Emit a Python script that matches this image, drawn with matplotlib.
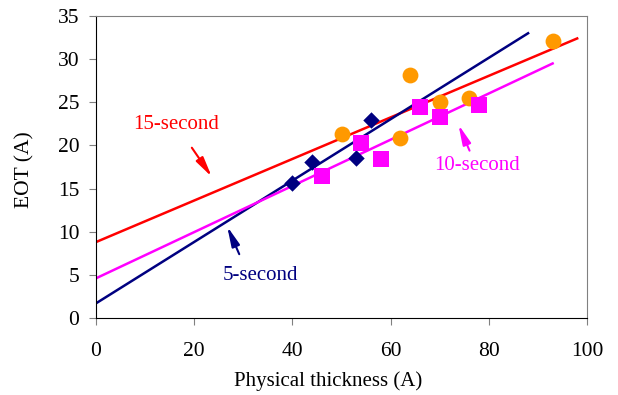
import matplotlib
matplotlib.use("Agg")
import matplotlib.pyplot as plt

# 5-second (diamonds)
x5 = [40, 44, 53, 56]
y5 = [15.6, 18.1, 18.6, 22.9]
# 10-second (squares)
x10 = [46, 54, 58, 66, 70, 78]
y10 = [16.4, 20.3, 18.4, 24.4, 23.3, 24.7]
# 15-second (circles)
x15 = [50, 64, 62, 70, 76, 93]
y15 = [21.3, 28.2, 20.9, 25.0, 25.5, 32.1]

# fitted lines (end points)
fit5_x = [0, 88]
fit5_y = [1.7, 33.0]
fit10_x = [0, 93]
fit10_y = [4.6, 29.5]
fit15_x = [0, 98]
fit15_y = [8.8, 32.4]

plt.rcParams['font.family'] = ['Liberation Serif', 'DejaVu Serif']

fig = plt.figure(figsize=(6.18, 3.95), dpi=100)
ax = fig.add_axes([96 / 618, 1 - 318 / 395, 491 / 618, 302 / 395])

ax.plot(fit15_x, fit15_y, color='#ff0000', lw=1.8, zorder=2)
ax.plot(fit5_x, fit5_y, color='#000080', lw=1.8, zorder=2)
ax.plot(fit10_x, fit10_y, color='#ff00ff', lw=1.8, zorder=2)

ax.scatter(x15, y15, marker='o', s=130, color='#ff9900', zorder=3, linewidths=0)
ax.scatter(x5, y5, marker='D', s=70, color='#000080', zorder=3, linewidths=0)
ax.scatter(x10, y10, marker='s', s=125, color='#ff00ff', zorder=4, linewidths=0)

arrow = dict(arrowstyle='-|>,head_width=0.18,head_length=0.85', lw=1.5,
             mutation_scale=14)
ax.annotate('', xy=(23.9, 16.1), xytext=(19.2, 20.0),
            arrowprops=dict(color='#ff0000', **arrow))
ax.text(16.3, 22.4, '15-second', color='#ff0000', fontsize=15,
        ha='center', va='center')
ax.annotate('', xy=(26.5, 10.9), xytext=(29.4, 7.1),
            arrowprops=dict(color='#000080', **arrow))
ax.text(33.5, 4.9, '5-second', color='#000080', fontsize=15,
        ha='center', va='center')
ax.annotate('', xy=(73.6, 22.7), xytext=(76.3, 19.1),
            arrowprops=dict(color='#ff00ff', **arrow))
ax.text(77.7, 17.7, '10-second', color='#ff00ff', fontsize=15,
        ha='center', va='center')

ax.set_xlim(0, 100)
ax.set_ylim(0, 35)
ax.set_xticks(range(0, 101, 20))
ax.set_yticks(range(0, 36, 5))
ax.tick_params(labelsize=15.5, length=5, color='#808080', direction='out')
ax.tick_params(axis='x', pad=12)
ax.tick_params(axis='y', pad=7)
ax.spines['top'].set_color('#808080')
ax.spines['right'].set_color('#808080')
ax.set_xlabel('Physical thickness (A)', fontsize=15)
ax.set_ylabel('EOT (A)', fontsize=15.5)
ax.xaxis.set_label_coords(0.472, -0.178)
ax.yaxis.set_label_coords(-0.126, 0.49)

fig.savefig('out.png', dpi=100)
